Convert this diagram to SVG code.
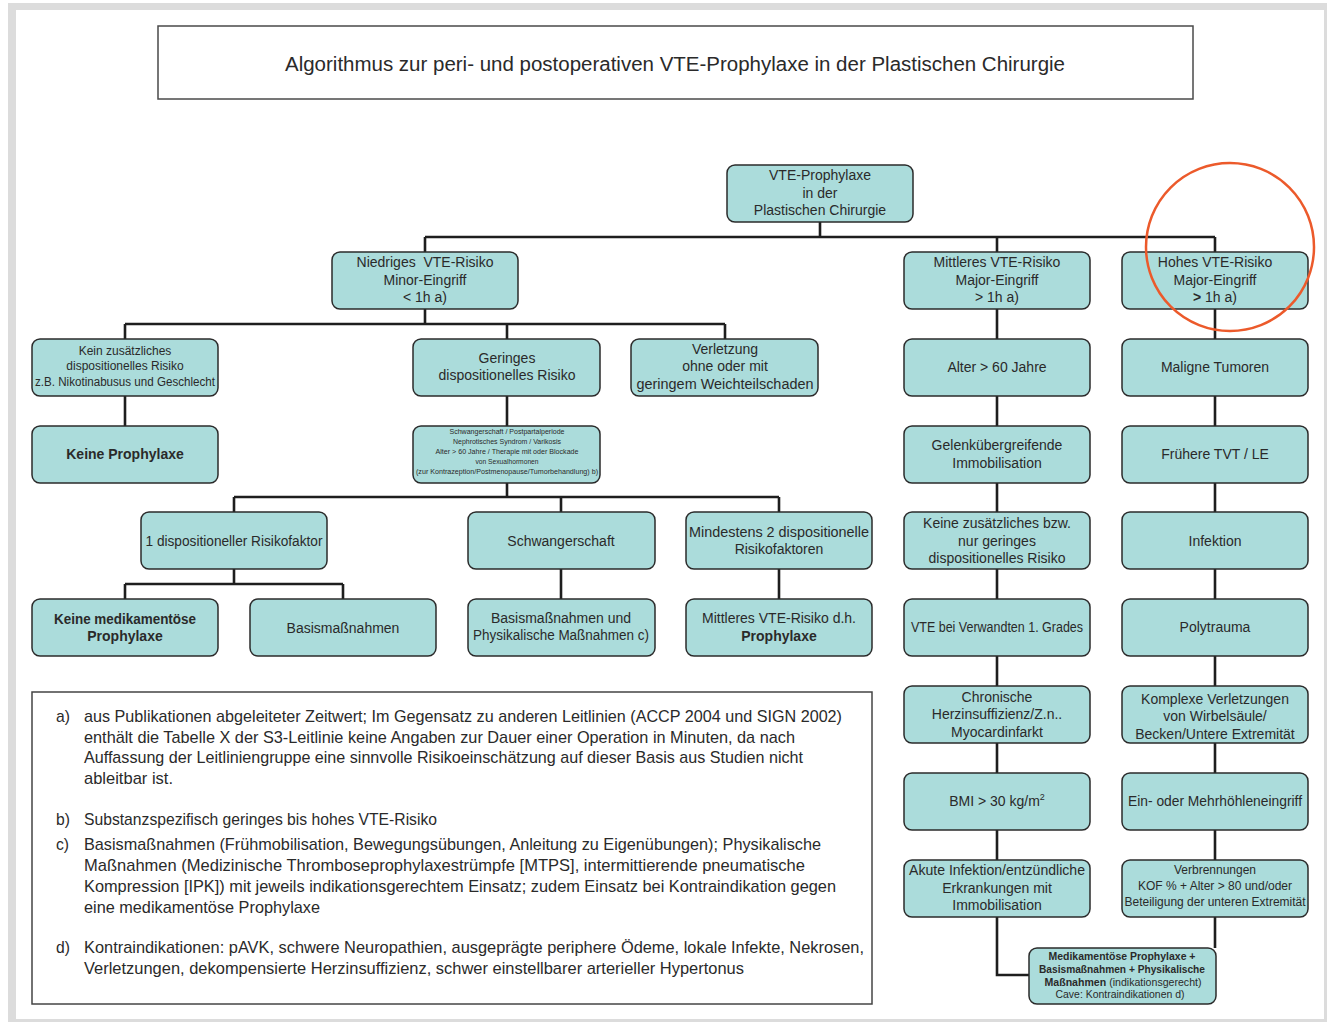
<svg xmlns="http://www.w3.org/2000/svg" width="1327" height="1022" viewBox="0 0 1327 1022">
<style>
.n{fill:#abdcdb;stroke:#2b2b2b;stroke-width:1.5}
.t{font-family:"Liberation Sans",Arial,sans-serif;font-size:14px;fill:#2a2a2a;text-anchor:middle}
.s12{font-size:12px}
.s11{font-size:11px}
.s8{font-size:8px}
.b{font-weight:bold}
.c{fill:none;stroke:#1e1e1e;stroke-width:2.6}
.note{font-family:"Liberation Sans",Arial,sans-serif;font-size:15.7px;fill:#2a2a2a}
</style>
<rect x="0" y="0" width="1327" height="1022" fill="#ffffff"/>
<rect x="8" y="3" width="1319" height="1019" fill="#dcdcdc"/>
<rect x="16" y="10" width="1308" height="1009" fill="#ffffff"/>

<g id="title">
<rect x="158" y="26" width="1035" height="73" fill="#fff" stroke="#4a4a4a" stroke-width="1.5"/>
<text x="675" y="71" class="t" style="font-size:20px" textLength="780" lengthAdjust="spacingAndGlyphs">Algorithmus zur peri- und postoperativen VTE-Prophylaxe in der Plastischen Chirurgie</text>
</g>

<g id="connectors">
<path class="c" d="M820 222V237M425 237H1215M425 237V252M997 237V252M1215 237V252"/>
<path class="c" d="M425 309V324M125 324H725M125 324V339M507 324V339M725 324V339"/>
<path class="c" d="M125 396V426M507 396V426"/>
<path class="c" d="M507 483V497M234 497H779M234 497V512M561 497V512M779 497V512"/>
<path class="c" d="M234 569V584M125 584H343M125 584V599M343 584V599"/>
<path class="c" d="M561 569V599M779 569V599"/>
<path class="c" d="M997 309V975H1029"/>
<path class="c" d="M1215 309V948"/>
</g>

<g id="n-top"><rect class="n" x="727" y="165" width="186" height="57" rx="8"/>
<text class="t" x="820" y="180">VTE-Prophylaxe</text><text class="t" x="820" y="198">in der</text><text class="t" x="820" y="215">Plastischen Chirurgie</text></g>

<g id="n-niedrig"><rect class="n" x="332" y="252" width="186" height="57" rx="8"/>
<text class="t" x="425" y="267" xml:space="preserve">Niedriges  VTE-Risiko</text><text class="t" x="425" y="285">Minor-Eingriff</text><text class="t" x="425" y="302">&lt; 1h a)</text></g>

<g id="n-mittel"><rect class="n" x="904" y="252" width="186" height="57" rx="8"/>
<text class="t" x="997" y="267">Mittleres VTE-Risiko</text><text class="t" x="997" y="285">Major-Eingriff</text><text class="t" x="997" y="302">&gt; 1h a)</text></g>

<g id="n-hoch"><rect class="n" x="1122" y="252" width="186" height="57" rx="8"/>
<text class="t" x="1215" y="267">Hohes VTE-Risiko</text><text class="t" x="1215" y="285">Major-Eingriff</text><text class="t" x="1215" y="302"><tspan class="b">&gt;</tspan> 1h a)</text></g>

<g id="n-kein-zus"><rect class="n" x="32" y="339" width="186" height="57" rx="8"/>
<text class="t s12" x="125" y="355">Kein zusätzliches</text><text class="t s12" x="125" y="370">dispositionelles Risiko</text><text class="t s12" x="125" y="386" textLength="180" lengthAdjust="spacingAndGlyphs">z.B. Nikotinabusus und Geschlecht</text></g>

<g id="n-geringes"><rect class="n" x="413" y="339" width="187" height="57" rx="8"/>
<text class="t" x="507" y="363">Geringes</text><text class="t" x="507" y="380">dispositionelles Risiko</text></g>

<g id="n-verletzung"><rect class="n" x="631" y="339" width="187" height="57" rx="8"/>
<text class="t" x="725" y="354">Verletzung</text><text class="t" x="725" y="371">ohne oder mit</text><text class="t" x="725" y="389" textLength="177" lengthAdjust="spacingAndGlyphs">geringem Weichteilschaden</text></g>

<g id="n-alter"><rect class="n" x="904" y="339" width="186" height="57" rx="8"/>
<text class="t" x="997" y="372">Alter &gt; 60 Jahre</text></g>

<g id="n-maligne"><rect class="n" x="1122" y="339" width="186" height="57" rx="8"/>
<text class="t" x="1215" y="372">Maligne Tumoren</text></g>

<g id="n-keine-pro"><rect class="n" x="32" y="426" width="186" height="57" rx="8"/>
<text class="t b" x="125" y="459">Keine Prophylaxe</text></g>

<g id="n-dispo-liste"><rect class="n" x="413" y="426" width="187" height="57" rx="8"/>
<text class="t s8" x="507" y="434" textLength="115" lengthAdjust="spacingAndGlyphs">Schwangerschaft / Postpartalperiode</text>
<text class="t s8" x="507" y="444" textLength="108" lengthAdjust="spacingAndGlyphs">Nephrotisches Syndrom / Varikosis</text>
<text class="t s8" x="507" y="454" textLength="143" lengthAdjust="spacingAndGlyphs">Alter &gt; 60 Jahre / Therapie mit oder Blockade</text>
<text class="t s8" x="507" y="464" textLength="63" lengthAdjust="spacingAndGlyphs">von Sexualhormonen</text>
<text class="t s8" x="507" y="474" textLength="182" lengthAdjust="spacingAndGlyphs">(zur Kontrazeption/Postmenopause/Tumorbehandlung) b)</text></g>

<g id="n-gelenk"><rect class="n" x="904" y="426" width="186" height="57" rx="8"/>
<text class="t" x="997" y="450">Gelenkübergreifende</text><text class="t" x="997" y="468">Immobilisation</text></g>

<g id="n-tvt"><rect class="n" x="1122" y="426" width="186" height="57" rx="8"/>
<text class="t" x="1215" y="459">Frühere TVT / LE</text></g>

<g id="n-1dispo"><rect class="n" x="141" y="512" width="186" height="57" rx="8"/>
<text class="t" x="234" y="546" textLength="177" lengthAdjust="spacingAndGlyphs">1 dispositioneller Risikofaktor</text></g>

<g id="n-schwanger"><rect class="n" x="468" y="512" width="187" height="57" rx="8"/>
<text class="t" x="561" y="546">Schwangerschaft</text></g>

<g id="n-mind2"><rect class="n" x="686" y="512" width="186" height="57" rx="8"/>
<text class="t" x="779" y="537" textLength="180" lengthAdjust="spacingAndGlyphs">Mindestens 2 dispositionelle</text><text class="t" x="779" y="554">Risikofaktoren</text></g>

<g id="n-keine-zus-bzw"><rect class="n" x="904" y="512" width="186" height="57" rx="8"/>
<text class="t" x="997" y="528">Keine zusätzliches bzw.</text><text class="t" x="997" y="546">nur geringes</text><text class="t" x="997" y="563">dispositionelles Risiko</text></g>

<g id="n-infektion"><rect class="n" x="1122" y="512" width="186" height="57" rx="8"/>
<text class="t" x="1215" y="546">Infektion</text></g>

<g id="n-keine-med"><rect class="n" x="32" y="599" width="186" height="57" rx="8"/>
<text class="t b" x="125" y="624" textLength="142" lengthAdjust="spacingAndGlyphs">Keine medikamentöse</text><text class="t b" x="125" y="641">Prophylaxe</text></g>

<g id="n-basis"><rect class="n" x="250" y="599" width="186" height="57" rx="8"/>
<text class="t" x="343" y="633">Basismaßnahmen</text></g>

<g id="n-basis-phys"><rect class="n" x="468" y="599" width="187" height="57" rx="8"/>
<text class="t" x="561" y="623">Basismaßnahmen und</text><text class="t" x="561" y="640" textLength="176" lengthAdjust="spacingAndGlyphs">Physikalische Maßnahmen c)</text></g>

<g id="n-mittel-pro"><rect class="n" x="686" y="599" width="186" height="57" rx="8"/>
<text class="t" x="779" y="623">Mittleres VTE-Risiko d.h.</text><text class="t b" x="779" y="641">Prophylaxe</text></g>

<g id="n-verwandte"><rect class="n" x="904" y="599" width="186" height="57" rx="8"/>
<text class="t" x="997" y="632" textLength="172" lengthAdjust="spacingAndGlyphs">VTE bei Verwandten 1. Grades</text></g>

<g id="n-polytrauma"><rect class="n" x="1122" y="599" width="186" height="57" rx="8"/>
<text class="t" x="1215" y="632">Polytrauma</text></g>

<g id="n-herz"><rect class="n" x="904" y="686" width="186" height="57" rx="8"/>
<text class="t" x="997" y="702">Chronische</text><text class="t" x="997" y="719">Herzinsuffizienz/Z.n..</text><text class="t" x="997" y="737">Myocardinfarkt</text></g>

<g id="n-komplex"><rect class="n" x="1122" y="686" width="186" height="57" rx="8"/>
<text class="t" x="1215" y="704">Komplexe Verletzungen</text><text class="t" x="1215" y="721">von Wirbelsäule/</text><text class="t" x="1215" y="739">Becken/Untere Extremität</text></g>

<g id="n-bmi"><rect class="n" x="904" y="773" width="186" height="57" rx="8"/>
<text class="t" x="997" y="806">BMI &gt; 30 kg/m<tspan dy="-6" style="font-size:9px">2</tspan></text></g>

<g id="n-hoehle"><rect class="n" x="1122" y="773" width="186" height="57" rx="8"/>
<text class="t" x="1215" y="806" textLength="174" lengthAdjust="spacingAndGlyphs">Ein- oder Mehrhöhleneingriff</text></g>

<g id="n-akut"><rect class="n" x="904" y="860" width="186" height="57" rx="8"/>
<text class="t" x="997" y="875" textLength="176" lengthAdjust="spacingAndGlyphs">Akute Infektion/entzündliche</text><text class="t" x="997" y="893">Erkrankungen mit</text><text class="t" x="997" y="910">Immobilisation</text></g>

<g id="n-verbrennung"><rect class="n" x="1122" y="860" width="186" height="57" rx="8"/>
<text class="t s12" x="1215" y="874">Verbrennungen</text><text class="t s12" x="1215" y="890">KOF % + Alter &gt; 80 und/oder</text><text class="t s12" x="1215" y="906" textLength="181" lengthAdjust="spacingAndGlyphs">Beteiligung der unteren Extremität</text></g>

<g id="n-medik"><rect class="n" x="1029" y="948" width="187" height="56" rx="8"/>
<text class="t s11 b" x="1122" y="960" textLength="147" lengthAdjust="spacingAndGlyphs">Medikamentöse Prophylaxe +</text>
<text class="t s11 b" x="1122" y="973" textLength="166" lengthAdjust="spacingAndGlyphs">Basismaßnahmen + Physikalische</text>
<text class="t s11" x="1123" y="986" textLength="157" lengthAdjust="spacingAndGlyphs"><tspan class="b">Maßnahmen</tspan> (indikationsgerecht)</text>
<text class="t s11" x="1120" y="998" textLength="129" lengthAdjust="spacingAndGlyphs">Cave: Kontraindikationen d)</text></g>

<g id="notes">
<rect x="32" y="692" width="840" height="312" fill="#fff" stroke="#444" stroke-width="1.5"/>
<text class="note" x="56" y="722">a)</text>
<text class="note" x="84" y="722" textLength="758" lengthAdjust="spacingAndGlyphs">aus Publikationen abgeleiteter Zeitwert; Im Gegensatz zu anderen Leitlinien (ACCP 2004 und SIGN 2002)</text>
<text class="note" x="84" y="743" textLength="711" lengthAdjust="spacingAndGlyphs">enthält die Tabelle X der S3-Leitlinie keine Angaben zur Dauer einer Operation in Minuten, da nach</text>
<text class="note" x="84" y="763" textLength="719" lengthAdjust="spacingAndGlyphs">Auffassung der Leitliniengruppe eine sinnvolle Risikoeinschätzung auf dieser Basis aus Studien nicht</text>
<text class="note" x="84" y="784" textLength="89" lengthAdjust="spacingAndGlyphs">ableitbar ist.</text>
<text class="note" x="56" y="825">b)</text>
<text class="note" x="84" y="825" textLength="353" lengthAdjust="spacingAndGlyphs">Substanzspezifisch geringes bis hohes VTE-Risiko</text>
<text class="note" x="56" y="850">c)</text>
<text class="note" x="84" y="850" textLength="737" lengthAdjust="spacingAndGlyphs">Basismaßnahmen (Frühmobilisation, Bewegungsübungen, Anleitung zu Eigenübungen); Physikalische</text>
<text class="note" x="84" y="871" textLength="721" lengthAdjust="spacingAndGlyphs">Maßnahmen (Medizinische Thromboseprophylaxestrümpfe [MTPS], intermittierende pneumatische</text>
<text class="note" x="84" y="892" textLength="752" lengthAdjust="spacingAndGlyphs">Kompression [IPK]) mit jeweils indikationsgerechtem Einsatz; zudem Einsatz bei Kontraindikation gegen</text>
<text class="note" x="84" y="913" textLength="236" lengthAdjust="spacingAndGlyphs">eine medikamentöse Prophylaxe</text>
<text class="note" x="56" y="953">d)</text>
<text class="note" x="84" y="953" textLength="780" lengthAdjust="spacingAndGlyphs">Kontraindikationen: pAVK, schwere Neuropathien, ausgeprägte periphere Ödeme, lokale Infekte, Nekrosen,</text>
<text class="note" x="84" y="974" textLength="660" lengthAdjust="spacingAndGlyphs">Verletzungen, dekompensierte Herzinsuffizienz, schwer einstellbarer arterieller Hypertonus</text>
</g>

<circle cx="1230" cy="247" r="84" fill="none" stroke="#ec5a2b" stroke-width="2.5"/>
</svg>
